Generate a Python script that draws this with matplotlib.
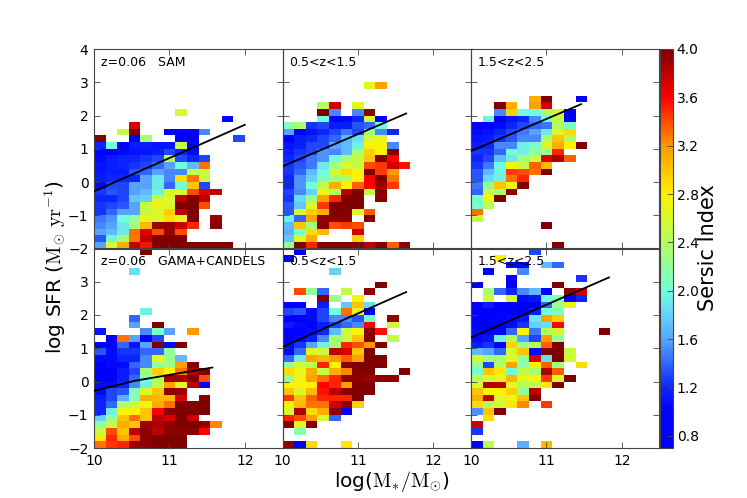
import numpy as np
import matplotlib
matplotlib.use('Agg')
import matplotlib.pyplot as plt
from matplotlib.colors import LinearSegmentedColormap, Normalize

plt.rcParams['font.family'] = 'DejaVu Sans'
plt.rcParams['mathtext.fontset'] = 'cm'

_ = np.nan

# Sersic index per bin. Rows run upward from the -2.2..-2.0 log SFR bin, columns from log M* = 10.
sam_z0 = [
 [_,_,_,_,4.0],
 [1.6,2.6,3.1,3.8,3.55,4,4,4,4,4,4,4],
 [1.35,1.95,2.3,3.3,3.8,4,4,4],
 [1.6,1.7,1.9,3.3,3.7,3.4,3.9,3.4],
 [1.5,1.6,1.9,2.3,3.05,3.9,3.9,3.75,3.5,_,3.95],
 [1.45,1.55,2.0,2.2,2.7,2.6,2.9,2.7,4,_,3.9],
 [1.25,1.4,1.6,1.6,2.5,2.6,2.95,3.8,4],
 [1.25,1.3,1.35,1.6,2.5,2.7,2.6,4,4,3.4],
 [1.2,1.2,1.3,1.75,1.8,2.55,2.6,3.8,4,3.8],
 [1.25,1.35,1.3,1.6,1.7,1.95,2.6,2.6,3.4,3.7,3.8],
 [1.05,1.3,1.3,1.6,1.6,1.9,1.4,2.0,3.0,1.3],
 [1.15,1.2,1.2,1.2,1.6,1.9,1.5,2.9,3.3,2.5],
 [1.1,1.15,1.15,1.35,1.4,1.6,1.5,1.5,2.5,2.5],
 [1.1,1.15,1.2,1.25,1.3,1.4,1.6,2.0,1.7,3.3],
 [1.05,1.15,1.2,1.2,1.25,1.3,2.4,1.3,1.2,1.3],
 [1.0,1.0,1.05,1.1,1.1,1.15,1.3,1.2,1.05],
 [1.2,2.0,1.0,1.15,1.15,1.1,1.1,2.5,1.0],
 [4,_,_,1.0,2.3,_,_,1.0,1.0,_,_,_,1.3],
 [_,_,2.5,4,_,_,1.0,1.0,1.0,1.5],
 [_,_,_,3.7],
 [_,_,_,_,_,_,_,_,_,_,_,1.05],
 [_,_,_,_,_,_,_,2.6],
]

sam_z1 = [
 [_,1.0],
 [2.2,4,3.5,4,4,4,3.95,3.8,4,3.35,3.95],
 [1.75,2.6,3.1,_,_,_,2.95],
 [1.65,2.05,2.9,3.05,_,_,3.75],
 [1.7,3.0,2.3,3.95,3.4,3.45,3.4],
 [1.95,1.4,3.15,3.95,3.95,3.95,_,4],
 [1.35,2.55,2.95,3.1,4,4,2.65,3.35],
 [1.35,1.75,2.6,3.45,4,4,4],
 [1.25,1.85,2.2,3.15,3.5,4,4,_,3.95],
 [1.3,1.5,1.8,2.7,2.4,3.8,4,2.5,3.95],
 [1.2,1.55,2.0,2.5,3.1,2.75,3.35,3.6,3.9,3.45],
 [1.2,1.55,1.8,2.1,2.3,2.4,2.75,3.6,4,3.3],
 [1.25,1.4,1.7,2.0,2.55,2.9,2.8,4,3.45,3.2],
 [1.25,1.35,1.45,1.9,2.3,2.6,2.5,3.4,3.45,3.75,3.55],
 [1.2,1.3,1.45,1.55,2.0,2.3,2.5,3.0,4,3.6],
 [1.15,1.25,1.3,1.55,1.5,1.7,2.35,2.95,2.8,4],
 [1.1,1.15,1.3,1.3,1.6,1.7,1.95,2.75,2.8,1.5],
 [1.0,1.15,1.2,1.3,1.4,1.7,1.85,2.6,2.65],
 [1.6,1.0,1.1,1.2,1.3,1.45,1.3,2.3,1.5,1.2],
 [2.1,2.35,1.25,1.3,1.15,1.15,1.35,1.4,2.0],
 [_,_,_,2.0,1.0,1.05,1.2,2.6,1.0],
 [_,_,_,4,1.5,_,1.5,3.95],
 [_,_,_,2.4,3.75,_,2.65],
 [], [],
 [_,_,_,_,_,_,_,2.65,3.15],
]

sam_z2 = [
 [_,_,_,_,_,1.3],
 [_,_,_,_,_,_,_,4],
 [], [],
 [_,_,_,_,_,_,4],
 [2.5],
 [3.3],
 [2.05,2.45],
 [2.05,2.8,4],
 [1.4,2.55,2.35,3.95],
 [1.45,2.2,3.0,2.7,4],
 [1.35,1.85,1.95,3.3,3.5],
 [1.35,1.7,1.95,3.45,3.4,3.3,4],
 [1.25,1.45,2.0,2.75,2.5,3.35,3.05],
 [1.2,1.3,1.7,1.9,2.3,2.5,3.7,3.85,3.35],
 [1.25,1.25,1.4,2.0,1.95,2.2,2.2,3.5],
 [1.15,1.2,1.5,1.5,1.95,2.05,2.6,3.1,2.75,4],
 [1.1,1.15,1.25,1.35,1.5,1.5,2.35,3.0,2.35],
 [1.05,1.1,1.2,1.3,1.45,1.6,1.9,2.6,2.9],
 [1.0,1.0,1.05,1.2,1.3,1.4,1.45,2.4,2.05],
 [_,1.95,1.0,1.1,1.2,1.5,2.0,2.5,1.0],
 [_,_,1.5,2.95,2.0,2.0,2.3,2.6,1.0],
 [_,_,4,3.1,_,3.15,3.75],
 [_,_,_,_,_,3.1,4,_,_,1.0],
]

obs_z0 = [
 [],
 [3.3,3.45,3.5,3.9,3.95,4,4,4],
 [2.85,3.5,3.1,3.4,3.95,4,4,4],
 [2.5,3.4,3.0,3.8,3.95,3.8,3.95,3.95,3.95,3.6],
 [2.15,2.5,3.1,3.0,3.9,3.85,3.95,4,4,3.95,3.25],
 [1.8,2.2,3.0,3.3,3.0,3.8,3.7,4,3.75],
 [1.2,1.95,2.8,2.8,3.0,3.6,3.95,4,4,4],
 [1.2,1.4,2.3,2.55,2.7,3.1,3.3,4,4,4],
 [1.15,1.3,1.65,2.1,3.1,3.05,3.05,3.7,_,3.95],
 [1.05,1.3,1.35,2.1,2.6,3.0,3.95,3.9],
 [1.05,1.05,1.2,1.5,1.95,2.45,3.15,2.65,3.8,1.0],
 [1.0,1.0,1.15,1.4,2.05,2.35,3.9,3.85,4,3.4],
 [1.0,1.0,1.15,1.3,2.3,2.95,2.8,3.3,3.85,4],
 [1.0,1.05,1.05,1.4,1.5,2.2,2.25,3.15,4],
 [1.05,1.05,1.2,1.2,1.5,2.7,2.25,1.7],
 [1.35,1.05,1.25,1.25,1.4,1.4,2.2],
 [1.0,1.0,1.4,1.1,1.6,4,1.05,4],
 [_,1.0,3.3,1.6,1.0,1.3],
 [1.1,_,_,_,1.5,2.05,1.6,_,3.2],
 [_,_,_,1.6,_,4],
 [_,_,_,1.4],
 [_,_,_,_,1.95],
 [], [], [], [], [],
 [_,_,_,1.85],
]

obs_z1 = [
 [],
 [3.95,1.0,2.9,_,_,2.85],
 [],
 [_,2.15],
 [4,2.7,4],
 [3.5,3.4,3.2,2.6,1.4],
 [2.6,3.85,2.9,3.1,3.95,1.0],
 [2.8,3.05,3.3,3.3,3.75,3.95,2.95],
 [3.45,3.0,3.35,3.5,3.5,3.5,4],
 [3.0,2.6,3.05,3.55,3.8,3.95,4,4],
 [2.8,2.8,2.8,3.6,3.5,3.2,4,4],
 [2.2,2.7,3.15,3.3,3.5,3.95,3.95,3.9,3.95,3.95],
 [2.9,2.7,3.1,2.5,3.1,3.25,4,4,_,_,4],
 [2.2,2.55,2.45,3.5,2.8,3.95,4,4,4],
 [1.4,1.9,3.15,3.05,3.2,3.35,3.15,4,4],
 [1.05,1.4,2.65,2.55,3.8,3.7,3.0,4],
 [1.05,1.25,1.6,1.95,2.3,3.5,3.4,3.2,4],
 [1.0,1.05,1.15,1.5,2.3,2.5,3.0,4,_,2.5],
 [1.0,1.0,1.05,1.2,1.7,2.55,2.75,3.95,3.55],
 [1.15,1.05,1.0,1.15,1.3,1.4,1.5,3.6,_,2.55],
 [1.0,1.0,1.05,1.3,1.5,1.5,1.35,2.05,_,3.95],
 [1.3,1.35,1.05,1.3,2.0,3.3,2.7,1.0],
 [1.0,1.0,_,1.15,_,1.75,3.0,1.85],
 [_,_,_,4,2.25,_,2.75],
 [_,3.4,2.2,1.4,_,2.5,_,3.95],
 [_,_,_,_,_,_,_,_,4],
 [],
 [_,_,_,_,1.8],
 [],
 [1.0],
]

obs_z2 = [
 [],
 [1.0,2.45,_,_,1.65,_,3.05],
 [],
 [1.25],
 [3.75],
 [_,2.9],
 [1.55,3.0,4],
 [2.9,2.4,2.55,2.85,3.25,_,3.45],
 [3.1,3.8,2.6,2.7,3.0,4],
 [3.0,2.75,2.8,2.95,2.2,3.8],
 [2.6,3.85,3.8,2.65,2.4,2.45,2.85,4],
 [2.45,2.6,2.65,3.05,2.65,2.75,3.45,2.6,4],
 [2.05,3.0,2.85,2.0,2.5,2.35,3.85,3.35],
 [2.2,1.3,2.4,3.15,2.15,2.8,3.35,2.3,_,2.9],
 [2.6,2.3,2.3,2.65,2.2,3.7,1.85,4,2.55],
 [1.7,1.6,1.4,2.6,3.0,1.05,4,4,2.5],
 [1.15,1.25,1.0,2.95,2.2,2.45,3.35,4],
 [1.05,1.1,1.95,2.4,1.6,1.3,3.2,2.2],
 [1.05,1.0,1.0,1.4,2.8,1.45,2.4,2.55,_,_,_,4],
 [1.0,1.0,1.0,1.05,1.25,1.8,1.85,3.6],
 [1.0,1.0,1.0,1.05,1.1,1.9,3.15,2.95],
 [1.0,1.0,1.0,1.0,1.0,1.15,2.0,2.1],
 [1.0,1.15,1.0,1.0,1.0,1.0,1.4,2.25,2.7],
 [_,2.55,_,2.6,1.05,1.1,2.0,2.1,1.0,1.2],
 [_,2.3,1.4,1.2,1.5,1.7,1.0,_,3.95,3.75],
 [1.0,_,_,1.0,_,_,_,4],
 [_,_,_,1.0,_,_,_,_,_,1.25],
 [_,1.0,_,_,1.5],
 [_,_,_,1.05,1.05,_,1.7,1.4],
 [_,_,2.8],
]

# Star-forming main-sequence lines: log M*, log SFR
line_sam_z0 = ([10.0, 12.0], [-0.28, 1.72])
line_sam_z1 = ([10.0, 11.64], [0.47, 2.06])
line_sam_z2 = ([10.0, 11.46], [0.93, 2.34])
line_obs_z0 = ([10.0, 10.54, 11.0, 11.57], [-0.28, 0.02, 0.2, 0.42])
line_obs_z1 = ([10.0, 11.64], [1.04, 2.69])
line_obs_z2 = ([10.0, 11.83], [1.32, 3.13])

labels_top = ['z=0.06   SAM', '0.5<z<1.5', '1.5<z<2.5']
labels_bottom = ['z=0.06   GAMA+CANDELS', '0.5<z<1.5', '1.5<z<2.5']
x_ticks = [10, 11, 12]
y_ticks_top = [-2, -1, 0, 1, 2, 3, 4]
y_ticks_bottom = [-2, -1, 0, 1, 2, 3]
cbar_ticks = [0.8, 1.2, 1.6, 2.0, 2.4, 2.8, 3.2, 3.6, 4.0]

W, H = 747, 498
VMIN, VMAX = 0.7, 4.0
anchors = [(0.7, (0, 0, 1)), (1.0, (0, 0, 1)), (1.2, (0.05, 0.15, 1)),
           (1.6, (0.35, 0.65, 1)), (1.8, (0.4, 0.82, 1)), (2.0, (0.45, 1, 0.85)),
           (2.4, (0.7, 1, 0.35)), (2.8, (1, 0.95, 0)), (3.2, (1, 0.6, 0)),
           (3.6, (1, 0, 0)), (4.0, (0.5, 0, 0))]
cmap = LinearSegmentedColormap.from_list(
    'sersic', [((v - VMIN) / (VMAX - VMIN), c) for v, c in anchors], N=256)
norm = Normalize(VMIN, VMAX)

def to_grid(rows, ncol=13, nrow=31):
    g = np.full((nrow, ncol), np.nan)
    for i, row in enumerate(rows):
        g[i, :len(row)] = row
    return np.ma.masked_invalid(g)

x_edges = 10 + 0.154 * np.arange(14)
y_edges = -2.2 + 0.2 * np.arange(32)

fig = plt.figure(figsize=(W / 100, H / 100), dpi=100)
xs = [94, 282.5, 471, 659.5]
ys = [49, 248.5, 448]

def make_ax(i, j):
    ax = fig.add_axes([xs[j] / W, 1 - ys[i + 1] / H, (xs[j + 1] - xs[j]) / W, (ys[i + 1] - ys[i]) / H])
    ax.patch.set_visible(False)
    ax.set_xlim(10, 12.5)
    ax.set_ylim(-2, 4)
    ax.set_xticks(x_ticks)
    ax.set_yticks(y_ticks_top if i == 0 else y_ticks_bottom)
    ax.tick_params(direction='in', top=True, right=True, length=4, width=0.6, labelsize=10,
                   color='#444444', labelleft=(j == 0), labelbottom=(i == 1), pad=4)
    for s in ax.spines.values():
        s.set_linewidth(0.8)
        s.set_color('#444444')
    return ax

panels = [
    (0, 0, sam_z0, line_sam_z0, labels_top[0]),
    (0, 1, sam_z1, line_sam_z1, labels_top[1]),
    (0, 2, sam_z2, line_sam_z2, labels_top[2]),
    (1, 0, obs_z0, line_obs_z0, labels_bottom[0]),
    (1, 1, obs_z1, line_obs_z1, labels_bottom[1]),
    (1, 2, obs_z2, line_obs_z2, labels_bottom[2]),
]
mesh = None
for i, j, rows, line, lab in panels:
    ax = make_ax(i, j)
    mesh = ax.pcolormesh(x_edges, y_edges, to_grid(rows), cmap=cmap, norm=norm, zorder=1)
    mesh.set_clip_on(False)
    ax.plot(line[0], line[1], color='black', lw=1.3, zorder=3)
    ax.text(10.09, 3.6, lab, fontsize=9, va='center', ha='left', zorder=4)

cax = fig.add_axes([xs[3] / W, 1 - ys[2] / H, 13 / W, (ys[2] - ys[0]) / H])
cb = fig.colorbar(mesh, cax=cax, ticks=cbar_ticks)
cb.ax.set_yticklabels(['%.1f' % t for t in cbar_ticks])
cb.ax.tick_params(direction='in', length=4, width=0.6, labelsize=10, color='#444444', pad=3)
cb.outline.set_linewidth(0.8)
cb.outline.set_edgecolor('#444444')

fig.text(708 / W, 1 - 248 / H, 'Sersic Index', rotation=90, fontsize=15, va='center', ha='center')
fig.text(55 / W, 1 - 267 / H, r'log SFR ($\mathrm{M}_{\odot}\ \mathrm{yr}^{-1}$)', rotation=90,
         fontsize=14.5, va='center', ha='center')
fig.text(392 / W, 1 - 481 / H, r'log($\mathrm{M}_{*}/\mathrm{M}_{\odot}$)', fontsize=14.5, va='center', ha='center')

fig.savefig('out.png', dpi=100)
